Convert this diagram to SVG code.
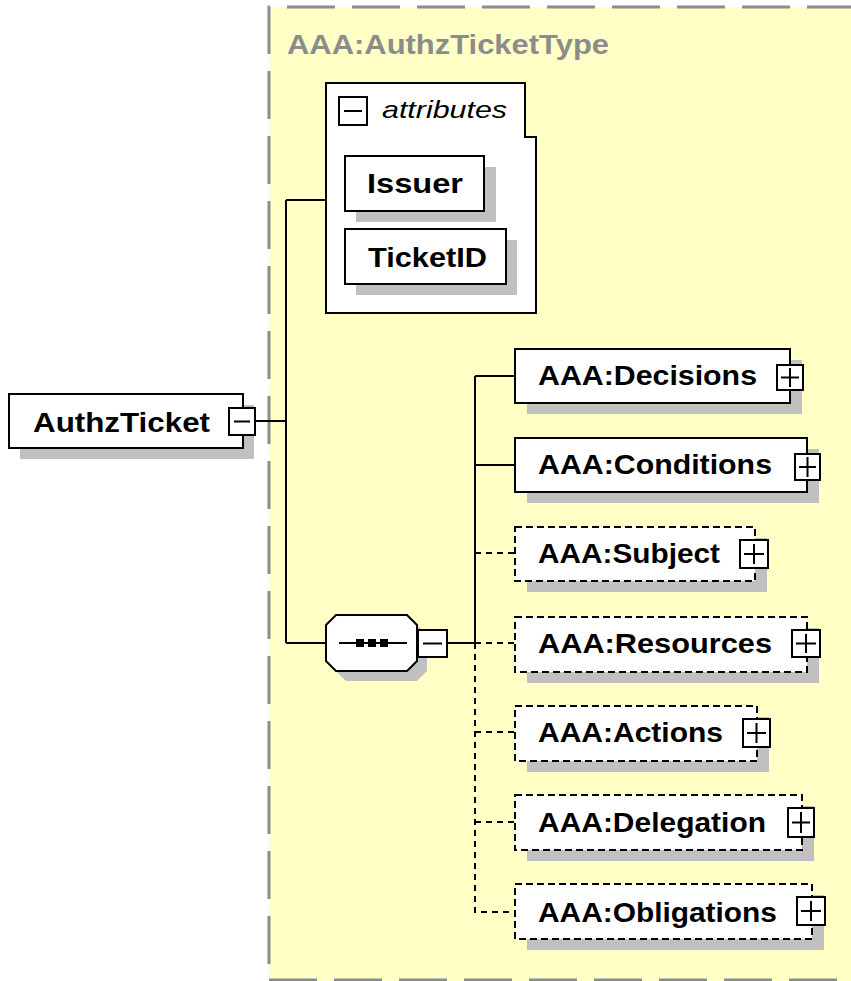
<svg xmlns="http://www.w3.org/2000/svg" width="851" height="981" viewBox="0 0 851 981">
<style>
.bg{fill:#ffffc6}
.frame{fill:none;stroke:#8c8c8c;stroke-width:3;stroke-dasharray:48,17}
.box{fill:#fff;stroke:#000;stroke-width:2}
.dbox{fill:#fff;stroke:#000;stroke-width:2;stroke-dasharray:7,4}
.sh{fill:#c0c0c0}
.ln{fill:none;stroke:#000;stroke-width:2}
.dl{fill:none;stroke:#000;stroke-width:2;stroke-dasharray:6,5}
.t{font-family:"Liberation Sans",Arial,sans-serif;font-weight:bold;font-size:28px;fill:#000}
.ttl{font-family:"Liberation Sans",Arial,sans-serif;font-weight:bold;font-size:28px;fill:#8c8c8c}
.it{font-family:"Liberation Sans",Arial,sans-serif;font-style:italic;font-size:24px;fill:#000}
</style>
<rect x="0" y="0" width="851" height="981" fill="#fff"/>
<rect class="bg" x="269" y="7" width="590" height="990"/>
<path class="frame" d="M269,964 V7 H851"/>
<path class="frame" d="M269,980 H851"/>
<text class="ttl" x="287" y="54" textLength="322" lengthAdjust="spacingAndGlyphs">AAA:AuthzTicketType</text>

<g id="connectors">
<path class="ln" d="M255,421 H286 M286,200 V643 M286,200 H326 M286,643 H326"/>
<path class="ln" d="M447,643 H475 M475,376 V643 M475,376 H515 M475,465 H515"/>
<path class="dl" d="M475,553 H515 M475,643 H515 M475,643 V912 H515 M475,732 H515 M475,822 H515"/>
</g>

<g id="AuthzTicket">
<rect class="sh" x="20" y="405" width="234" height="54"/>
<rect class="box" x="9" y="394" width="234" height="54"/>
<text class="t" x="33" y="432" textLength="177" lengthAdjust="spacingAndGlyphs">AuthzTicket</text>
<rect class="box" x="229" y="408" width="26" height="27"/>
<path class="ln" d="M234,421.5 H250"/>
</g>

<g id="attributes">
<path class="box" d="M326,83 H525 V137 H536 V313 H326 Z"/>
<rect class="box" x="339" y="97" width="28" height="28"/>
<path class="ln" d="M344,111 H362"/>
<text class="it" x="382" y="118" textLength="125" lengthAdjust="spacingAndGlyphs">attributes</text>
</g>

<g id="Issuer">
<rect class="sh" x="356" y="167" width="140" height="55"/>
<rect class="box" x="345" y="156" width="139" height="55"/>
<text class="t" x="367" y="193" textLength="96" lengthAdjust="spacingAndGlyphs">Issuer</text>
</g>

<g id="TicketID">
<rect class="sh" x="356" y="240" width="161" height="55"/>
<rect class="box" x="345" y="229" width="161" height="55"/>
<text class="t" x="368" y="267" textLength="119" lengthAdjust="spacingAndGlyphs">TicketID</text>
</g>

<g id="sequence">
<polygon class="sh" points="346,625 417,625 427,635 427,671 417,681 346,681 336,671 336,635"/>
<polygon class="box" points="336,615 407,615 417,625 417,661 407,671 336,671 326,661 326,625"/>
<path class="ln" d="M339,643 H407"/>
<rect x="356" y="639" width="8" height="8" fill="#000"/>
<rect x="368" y="639" width="8" height="8" fill="#000"/>
<rect x="380" y="639" width="8" height="8" fill="#000"/>
<rect class="box" x="418" y="630" width="29" height="27"/>
<path class="ln" d="M423,643.5 H442"/>
</g>

<g id="Decisions">
<rect class="sh" x="527" y="360" width="275" height="54"/>
<rect class="box" x="515" y="349" width="275" height="54"/>
<text class="t" x="538" y="385" textLength="219" lengthAdjust="spacingAndGlyphs">AAA:Decisions</text>
<rect class="box" x="777" y="365" width="26" height="25"/>
<path class="ln" d="M781,377.5 H799 M790,368 V387"/>
</g>

<g id="Conditions">
<rect class="sh" x="527" y="449" width="292" height="54"/>
<rect class="box" x="515" y="438" width="292" height="54"/>
<text class="t" x="538" y="474" textLength="234" lengthAdjust="spacingAndGlyphs">AAA:Conditions</text>
<rect class="box" x="795" y="454" width="25" height="26"/>
<path class="ln" d="M799,467 H816 M807.5,457 V477"/>
</g>

<g id="Subject">
<rect class="sh" x="527" y="538" width="240" height="54"/>
<rect class="dbox" x="515" y="527" width="240" height="54"/>
<text class="t" x="538" y="563" textLength="182" lengthAdjust="spacingAndGlyphs">AAA:Subject</text>
<rect class="box" x="740" y="540" width="28" height="28"/>
<path class="ln" d="M744,554 H764 M754,544 V564"/>
</g>

<g id="Resources">
<rect class="sh" x="527" y="628" width="292" height="55"/>
<rect class="dbox" x="515" y="617" width="292" height="55"/>
<text class="t" x="538" y="653" textLength="234" lengthAdjust="spacingAndGlyphs">AAA:Resources</text>
<rect class="box" x="792" y="630" width="28" height="27"/>
<path class="ln" d="M796,643.5 H816 M806,634 V653"/>
</g>

<g id="Actions">
<rect class="sh" x="527" y="717" width="242" height="55"/>
<rect class="dbox" x="515" y="706" width="242" height="55"/>
<text class="t" x="538" y="742" textLength="185" lengthAdjust="spacingAndGlyphs">AAA:Actions</text>
<rect class="box" x="743" y="719" width="27" height="28"/>
<path class="ln" d="M747,733 H766 M756.5,723 V743"/>
</g>

<g id="Delegation">
<rect class="sh" x="527" y="806" width="287" height="55"/>
<rect class="dbox" x="515" y="795" width="287" height="55"/>
<text class="t" x="538" y="832" textLength="228" lengthAdjust="spacingAndGlyphs">AAA:Delegation</text>
<rect class="box" x="788" y="808" width="26" height="29"/>
<path class="ln" d="M792,822.5 H810 M801,812 V833"/>
</g>

<g id="Obligations">
<rect class="sh" x="527" y="895" width="297" height="55"/>
<rect class="dbox" x="515" y="884" width="297" height="55"/>
<text class="t" x="538" y="922" textLength="239" lengthAdjust="spacingAndGlyphs">AAA:Obligations</text>
<rect class="box" x="797" y="897" width="28" height="28"/>
<path class="ln" d="M801,911 H821 M811,901 V921"/>
</g>
</svg>
